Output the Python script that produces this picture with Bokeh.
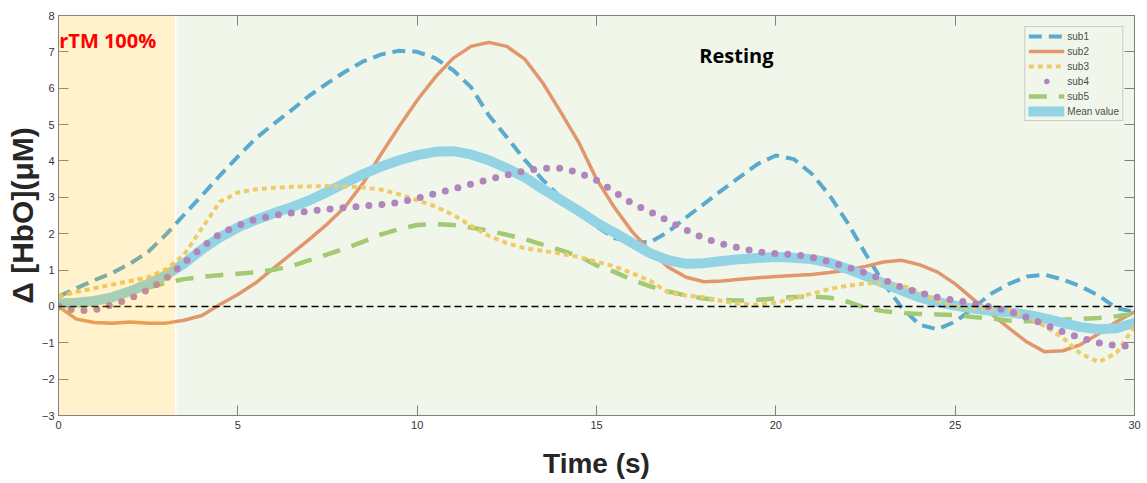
from bokeh.plotting import figure
from bokeh.models import (Range1d, FixedTicker, LinearAxis, BoxAnnotation, Span,
                          Legend, LegendItem, Label, CDSView, IndexFilter,
                          CustomJSTickFormatter, ColumnDataSource)
from bokeh.embed import file_html
from bokeh.resources import INLINE

# ---------------- data (every 0.5 s) ----------------
time_s = [i / 2 for i in range(61)]
sub1 = [0.27, 0.50, 0.72, 0.92, 1.18, 1.50, 1.98, 2.52, 3.05, 3.60,
        4.12, 4.62, 5.02, 5.40, 5.80, 6.14, 6.46, 6.74, 6.93, 7.03,
        7.00, 6.83, 6.50, 6.03, 5.25, 4.65, 4.03, 3.48, 3.00, 2.58,
        2.20, 1.88, 1.76, 1.77, 2.05, 2.45, 2.82, 3.20, 3.56, 3.92,
        4.15, 4.05, 3.65, 3.05, 2.30, 1.45, 0.65, -0.02, -0.50, -0.63,
        -0.42, -0.05, 0.35, 0.62, 0.82, 0.87, 0.74, 0.55, 0.30, -0.05,
        -0.15]
sub2 = [0.00, -0.35, -0.44, -0.46, -0.43, -0.46, -0.46, -0.38, -0.25, 0.05,
        0.33, 0.65, 1.05, 1.45, 1.85, 2.27, 2.75, 3.40, 4.20, 4.95,
        5.67, 6.30, 6.82, 7.15, 7.26, 7.15, 6.80, 6.15, 5.35, 4.52,
        3.50, 2.72, 2.05, 1.52, 1.08, 0.80, 0.68, 0.70, 0.75, 0.79,
        0.82, 0.85, 0.88, 0.93, 1.00, 1.10, 1.22, 1.27, 1.15, 0.95,
        0.62, 0.20, -0.20, -0.60, -0.98, -1.25, -1.22, -1.05, -0.75, -0.42,
        -0.15]
sub3 = [0.27, 0.40, 0.50, 0.60, 0.70, 0.80, 1.02, 1.42, 2.15, 2.88,
        3.13, 3.22, 3.26, 3.29, 3.30, 3.31, 3.30, 3.27, 3.21, 3.08,
        2.92, 2.75, 2.52, 2.22, 1.94, 1.74, 1.60, 1.53, 1.45, 1.36,
        1.23, 1.10, 0.91, 0.70, 0.38, 0.30, 0.25, 0.15, 0.07, 0.04,
        0.10, 0.22, 0.35, 0.48, 0.57, 0.63, 0.64, 0.58, 0.40, 0.15,
        0.00, -0.05, -0.07, -0.10, -0.28, -0.55, -0.86, -1.30, -1.53, -1.28,
        -0.55]
sub4 = [0.00, -0.12, -0.10, 0.05, 0.22, 0.46, 0.77, 1.20, 1.62, 2.00,
        2.22, 2.40, 2.50, 2.57, 2.62, 2.67, 2.72, 2.76, 2.80, 2.86,
        2.97, 3.10, 3.23, 3.36, 3.49, 3.61, 3.73, 3.80, 3.80, 3.68,
        3.47, 3.15, 2.83, 2.60, 2.35, 2.10, 1.87, 1.72, 1.60, 1.50,
        1.45, 1.43, 1.35, 1.22, 1.08, 0.92, 0.73, 0.53, 0.38, 0.25,
        0.17, 0.08, -0.02, -0.13, -0.30, -0.50, -0.70, -0.86, -1.00, -1.08,
        -1.10]
sub5 = [0.00, 0.10, 0.20, 0.30, 0.40, 0.52, 0.65, 0.75, 0.81, 0.86,
        0.90, 0.94, 1.01, 1.11, 1.27, 1.43, 1.60, 1.78, 1.98, 2.13,
        2.24, 2.26, 2.24, 2.17, 2.08, 1.97, 1.85, 1.70, 1.55, 1.38,
        1.13, 0.95, 0.73, 0.55, 0.41, 0.30, 0.22, 0.17, 0.16, 0.18,
        0.22, 0.26, 0.27, 0.24, 0.13, -0.04, -0.13, -0.18, -0.21, -0.22,
        -0.24, -0.29, -0.33, -0.39, -0.41, -0.39, -0.37, -0.34, -0.32, -0.27,
        -0.20]
mean_value = [0.08, 0.10, 0.15, 0.25, 0.42, 0.62, 0.86, 1.18, 1.57, 1.90,
              2.17, 2.38, 2.56, 2.73, 2.92, 3.15, 3.40, 3.64, 3.85, 4.02,
              4.16, 4.25, 4.27, 4.18, 4.02, 3.80, 3.55, 3.23, 2.93, 2.63,
              2.30, 2.03, 1.74, 1.46, 1.27, 1.17, 1.19, 1.25, 1.30, 1.33,
              1.36, 1.34, 1.30, 1.20, 1.03, 0.84, 0.64, 0.44, 0.25, 0.12,
              0.02, -0.06, -0.12, -0.16, -0.23, -0.33, -0.45, -0.57, -0.63, -0.60,
              -0.45]

series_names = ["sub1", "sub2", "sub3", "sub4", "sub5", "Mean value"]
x_ticks = [0, 5, 10, 15, 20, 25, 30]
y_ticks = [-3, -2, -1, 0, 1, 2, 3, 4, 5, 6, 7, 8]
x_limits = (0, 30)
y_limits = (-3, 8)
baseline = 0
stim_end = 3.25
rest_start = 3.29
stim_text = "rTM 100%"
stim_text_pos = (0.02, 7.31)
rest_text = "Resting"
rest_text_pos = (18.9, 6.9)

# ---------------- figure ----------------
p = figure(width=1143, height=481, output_backend="svg", toolbar_location=None,
           x_range=Range1d(*x_limits), y_range=Range1d(*y_limits),
           min_border_left=58, min_border_right=9, min_border_top=15,
           min_border_bottom=65, background_fill_color="white",
           border_fill_color="white")
p.grid.visible = False
p.outline_line_color = "#808080"

# resting phase background
p.add_layout(BoxAnnotation(left=rest_start, right=x_limits[1], fill_color="#F0F7EA",
                           fill_alpha=1.0, line_color=None, level="underlay"))

AX = "#808080"
for ax, ticks in ((p.xaxis[0], x_ticks), (p.yaxis[0], y_ticks)):
    ax.ticker = FixedTicker(ticks=ticks)
    ax.major_tick_in = 10
    ax.major_tick_out = 0
    ax.minor_tick_line_color = None
    ax.axis_line_color = AX
    ax.major_tick_line_color = AX
    ax.major_label_text_font = "Liberation Sans"
    ax.major_label_text_font_size = "11px"
    ax.major_label_text_color = "#333333"
    ax.axis_label_text_font = "Liberation Sans"
    ax.axis_label_text_font_style = "bold"
    ax.axis_label_text_color = "#262626"

p.xaxis.axis_label = "Time (s)"
p.xaxis.axis_label_text_font_size = "28px"
p.xaxis.axis_label_standoff = 16
p.xaxis.major_label_standoff = 5
p.yaxis.axis_label = "Δ [HbO](μM)"
p.yaxis.axis_label_text_font_size = "30px"
p.yaxis.axis_label_standoff = 0
p.yaxis.major_label_standoff = 4

blank = CustomJSTickFormatter(code="return ''")
top_ax = LinearAxis(ticker=FixedTicker(ticks=x_ticks), formatter=blank,
                    major_tick_in=10, major_tick_out=0, minor_tick_line_color=None,
                    axis_line_color=AX, major_tick_line_color=AX, major_label_standoff=0)
right_ax = LinearAxis(ticker=FixedTicker(ticks=y_ticks), formatter=blank,
                      major_tick_in=10, major_tick_out=0, minor_tick_line_color=None,
                      axis_line_color=AX, major_tick_line_color=AX, major_label_standoff=0)
p.add_layout(top_ax, "above")
p.add_layout(right_ax, "right")

# zero line
p.add_layout(Span(location=baseline, dimension="width", line_color="black",
                  line_dash="7 4", line_width=1.5))

C1, C2, C3, C4, C5, CM = "#5AAAD0", "#E2966B", "#EFCB68", "#B084BC", "#A2CA72", "#92D4E4"

r1 = p.line(time_s, sub1, line_color=C1, line_width=4, line_dash="13 7")
r2 = p.line(time_s, sub2, line_color=C2, line_width=3.5, line_join="round")
r5 = p.line(time_s, sub5, line_color=C5, line_width=4.5, line_dash="18 12")
rm = p.line(time_s, mean_value, line_color=CM, line_width=10, line_join="round",
            line_cap="round")
r3 = p.line(time_s, sub3, line_color=C3, line_width=4, line_dash="5 4")
r4 = p.line(time_s, sub4, line_color=C4, line_width=7, line_dash="0 13",
            line_cap="round", line_join="round")
# legend key for sub4: a marker on the first sample only (it coincides with the first dot)
src4 = ColumnDataSource(data=dict(t=time_s, v=sub4))
r4_key = p.scatter("t", "v", source=src4, size=7, fill_color=C4, line_color=C4,
                   view=CDSView(filter=IndexFilter(indices=[0])))

# stimulation phase overlay (drawn above the curves, translucent)
p.add_layout(BoxAnnotation(left=x_limits[0], right=stim_end, fill_color="#FFC000",
                           fill_alpha=0.2, line_color=None, level="overlay"))

p.add_layout(Label(x=stim_text_pos[0], y=stim_text_pos[1], text=stim_text,
                   text_color="#FF0000", text_font="Open Sans", text_font_style="bold",
                   text_font_size="20px", text_baseline="middle", text_align="left",
                   level="overlay"))
p.add_layout(Label(x=rest_text_pos[0], y=rest_text_pos[1], text=rest_text,
                   text_color="black", text_font="Open Sans", text_font_style="bold",
                   text_font_size="20px", text_baseline="middle", text_align="center",
                   level="overlay"))

legend = Legend(items=[LegendItem(label=series_names[0], renderers=[r1]),
                       LegendItem(label=series_names[1], renderers=[r2]),
                       LegendItem(label=series_names[2], renderers=[r3]),
                       LegendItem(label=series_names[3], renderers=[r4_key]),
                       LegendItem(label=series_names[4], renderers=[r5]),
                       LegendItem(label=series_names[5], renderers=[rm])],
                location="top_right")
legend.label_text_font = "Liberation Sans"
legend.label_text_font_size = "10px"
legend.label_text_color = "#4d4d4d"
legend.glyph_width = 36
legend.glyph_height = 12
legend.label_height = 12
legend.spacing = 3
legend.padding = 3
legend.margin = 11
legend.label_standoff = 3
legend.border_line_color = "#a0a0a0"
legend.background_fill_color = "#F0F7EA"
legend.background_fill_alpha = 1.0
p.add_layout(legend)

open("out.html", "w").write(file_html(p, INLINE))
